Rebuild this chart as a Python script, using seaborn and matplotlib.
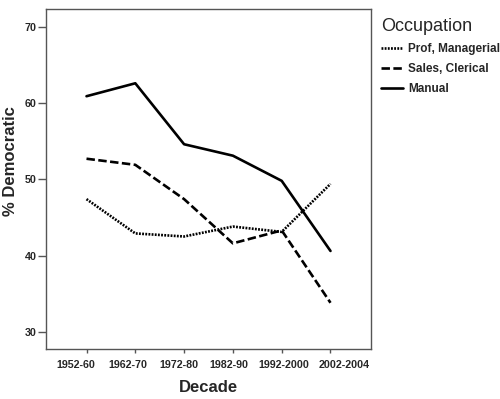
import pandas as pd
import matplotlib
matplotlib.use('Agg')
import matplotlib.pyplot as plt
import matplotlib.transforms as mtransforms
import seaborn as sns

# 数据
decades = ['1952-60', '1962-70', '1972-80', '1982-90', '1992-2000', '2002-2004']
prof_managerial = [47.4, 42.9, 42.5, 43.8, 43.1, 49.4]
sales_clerical = [52.7, 51.9, 47.4, 41.6, 43.3, 33.8]
manual = [60.9, 62.6, 54.6, 53.1, 49.8, 40.6]
occupations = ['Prof, Managerial', 'Sales, Clerical', 'Manual']

df = pd.DataFrame({
    'Decade': decades * 3,
    '% Democratic': prof_managerial + sales_clerical + manual,
    'Occupation': [o for o in occupations for _ in decades],
})

sns.set_style('white')
plt.rcParams['font.family'] = ['Liberation Sans', 'DejaVu Sans']

fig = plt.figure(figsize=(5, 3.99), dpi=100)
ax = fig.add_axes([0.092, 0.1246, 0.65, 0.852])

dashes = {'Prof, Managerial': (0.7, 0.5), 'Sales, Clerical': (3.2, 1.3), 'Manual': ''}
sns.lineplot(data=df, x='Decade', y='% Democratic', hue='Occupation', style='Occupation',
             dashes=dashes, palette=['black'] * 3, linewidth=1.9, ax=ax, sort=False)

ax.set_xlim(-0.83, 5.83)
ax.set_ylim(27.7, 72.3)
ax.set_yticks([30, 40, 50, 60, 70])
ax.set_xticks(range(len(decades)))
ax.set_xticklabels(decades)
for s in ax.spines.values():
    s.set_color('#555555')
    s.set_linewidth(1.0)
ax.tick_params(axis='both', direction='out', width=1, color='#555555',
               labelsize=7.7, bottom=True, left=True)
ax.tick_params(axis='y', length=5.5, pad=1)
ax.tick_params(axis='x', length=3, pad=5)
for lab in ax.get_xticklabels() + ax.get_yticklabels():
    lab.set_fontweight('bold')

# SPSS风格: 标签稍微错开以免重叠
shifts = [-10.5, -7, -5, -4, 2.5, 13.5]
for lab, dx in zip(ax.get_xticklabels(), shifts):
    lab.set_transform(lab.get_transform() +
                      mtransforms.ScaledTranslation(dx / 100, 0, fig.dpi_scale_trans))

ax.set_xlabel('Decade', fontsize=12, fontweight='bold', labelpad=7)
ax.set_ylabel('% Democratic', fontsize=12, fontweight='bold')
ax.yaxis.set_label_coords(-0.087, 0.554)

handles, labels = ax.get_legend_handles_labels()
pairs = [(h, l) for h, l in zip(handles, labels) if l in occupations]
leg = ax.legend([p[0] for p in pairs], [p[1] for p in pairs], title='Occupation',
                loc='upper left', bbox_to_anchor=(1.01, 0.996), frameon=False,
                prop={'weight': 'bold', 'size': 8.5}, title_fontsize=13,
                handlelength=1.8, handletextpad=0.45, labelspacing=0.68,
                alignment='left', borderaxespad=0.2)

fig.savefig('out.png', dpi=100)
